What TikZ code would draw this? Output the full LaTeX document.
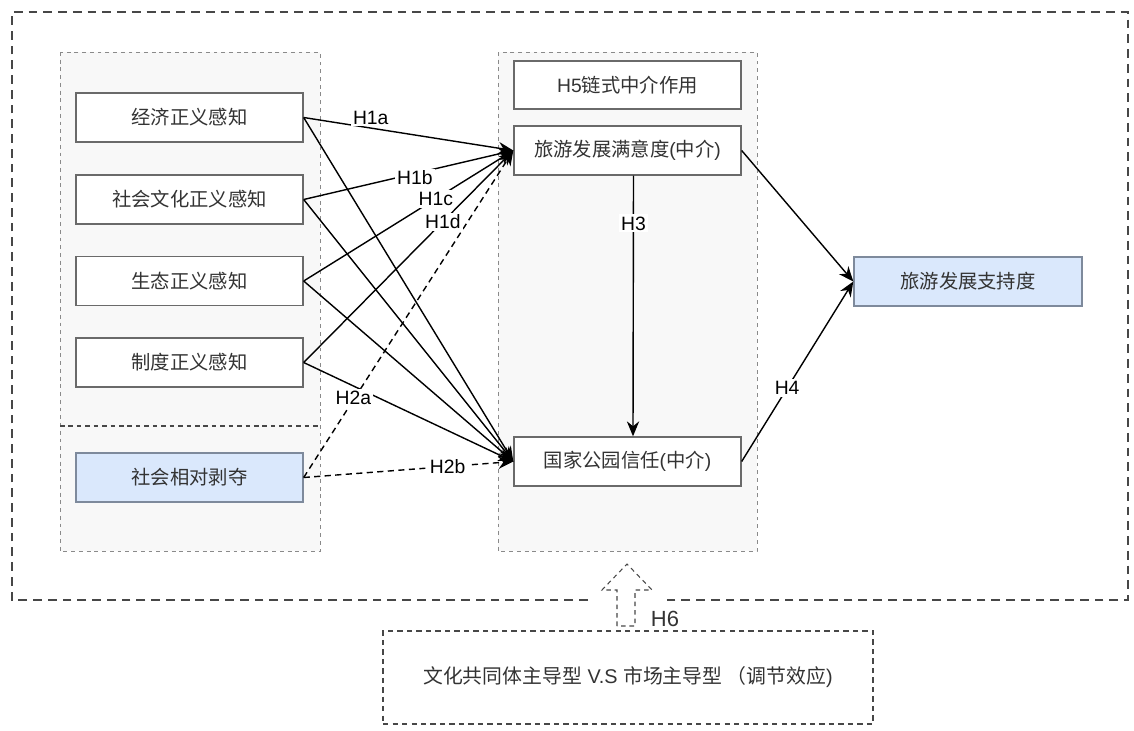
\documentclass[tikz,border=0pt]{standalone}
\usepackage{fontspec}
\setmainfont{Liberation Sans}
\newfontfamily\cjk{Noto Sans CJK SC}
\usetikzlibrary{arrows.meta}
\newcommand{\zh}[1]{{\cjk #1}}
\definecolor{boxgray}{HTML}{6A6A6A}
\definecolor{panelgray}{HTML}{8A8A8A}
\definecolor{panelfill}{HTML}{F8F8F8}
\definecolor{lblue}{HTML}{DAE8FC}
\definecolor{bluegray}{HTML}{7E8A9C}
\definecolor{txt}{HTML}{333333}
\definecolor{outergray}{HTML}{474747}
\begin{document}
\begin{tikzpicture}[x=0.02cm,y=-0.02cm,
  box/.style={draw=boxgray, line width=0.8pt, fill=white, minimum width=4.54cm, minimum height=0.98cm, inner sep=0pt, font=\fontsize{11}{13}\selectfont, text=txt},
  bluebox/.style={box, fill=lblue, draw=bluegray},
  panel/.style={draw=panelgray, dash pattern=on 2.2pt off 2.2pt, line width=0.55pt, fill=panelfill},
  outer/.style={draw=outergray, dash pattern=on 5pt off 3.4pt, line width=0.9pt},
  modbox/.style={draw=outergray, dash pattern=on 3pt off 2.4pt, line width=0.7pt, minimum width=9.8cm, minimum height=1.86cm, inner sep=0pt, font=\fontsize{11.3}{13}\selectfont, text=txt},
  conn/.style={line width=0.8pt, draw=black, -{Stealth[length=8.5pt,width=7pt]}},
  dconn/.style={conn, dash pattern=on 3.5pt off 2.5pt},
  lbl/.style={fill=white, inner sep=1.2pt, font=\fontsize{11}{13}\selectfont, text=black},
]
\useasboundingbox (0,0) rectangle (1134,731);

% outer frame (gap where the H6 arrow crosses)
\draw[outer] (588,600) -- (12,600) -- (12,12) -- (1128,12) -- (1128,600) -- (662,600);

% panels
\draw[panel] (60,52) rectangle (320,551);
\draw[outergray, dash pattern=on 2.6pt off 2.2pt, line width=0.75pt] (60,426) -- (320,426);
\draw[panel] (498,52) rectangle (757,551);

% nodes
\node[box] (b1) at (189.5,117.5) {\zh{经济正义感知}};
\node[box] (b2) at (189.5,199.5) {\zh{社会文化正义感知}};
\node[box] (b3) at (189.5,281) {\zh{生态正义感知}};
\node[box] (b4) at (189.5,362.5) {\zh{制度正义感知}};
\node[bluebox] (b5) at (189.5,477.5) {\zh{社会相对剥夺}};
\node[box, minimum height=0.96cm] (h5) at (627.5,85) {H5\zh{链式中介作用}};
\node[box] (sat) at (627.5,150.5) {\zh{旅游发展满意度}(\zh{中介})};
\node[box] (trust) at (627.5,461.5) {\zh{国家公园信任}(\zh{中介})};
\node[bluebox, minimum width=4.56cm] (sup) at (968,281.5) {\zh{旅游发展支持度}};
\node[modbox] (mod) at (628,677.5) {\zh{文化共同体主导型} V.S \zh{市场主导型 （调节效应})};

% connectors to satisfaction
\draw[conn] (b1.east) -- (sat.west);
\draw[conn] (b2.east) -- (sat.west);
\draw[conn] (b3.east) -- (sat.west);
\draw[conn] (b4.east) -- (sat.west);
\draw[dconn] (b5.east) -- (sat.west);
% connectors to trust
\draw[conn] (b1.east) -- (trust.west);
\draw[conn] (b2.east) -- (trust.west);
\draw[conn] (b3.east) -- (trust.west);
\draw[conn] (b4.east) -- (trust.west);
\draw[dconn] (b5.east) -- (trust.west);
% chain
\draw[conn] ([xshift=0.12cm]sat.south) -- ([xshift=0.11cm]trust.north);
\draw[conn] (sat.east) -- (sup.west);
\draw[conn] (trust.east) -- (sup.west);

% labels on the connectors
\path (b1.east) -- node[lbl, pos=0.32, yshift=0.21cm] {H1a} (sat.west);
\path (b2.east) -- node[lbl, pos=0.53, yshift=-0.09cm] {H1b} (sat.west);
\path (b3.east) -- node[lbl, pos=0.63] {H1c} (sat.west);
\path (b4.east) -- node[lbl, pos=0.664] {H1d} (sat.west);
\path (b4.east) -- node[lbl, pos=0.237, yshift=-0.24cm] {H2a} (trust.west);
\path (b5.east) -- node[lbl, pos=0.687] {H2b} (trust.west);
\path ([xshift=0.12cm]sat.south) -- node[lbl, pos=0.183] {H3} ([xshift=0.11cm]trust.north);
\path (trust.east) -- node[lbl, pos=0.407] {H4} (sup.west);

% H6 hollow dashed arrow from the moderator box up to the frame
\draw[draw=outergray, fill=white, dash pattern=on 2.6pt off 2.2pt, line width=0.6pt]
  (617,626) -- (617,590) -- (602,590) -- (627,564) -- (652,590) -- (635,590) -- (635,626) -- cycle;
\node[font=\fontsize{12.5}{14}\selectfont, text=txt, inner sep=0pt] (h6) at (665,619) {H6};
\end{tikzpicture}
\end{document}
